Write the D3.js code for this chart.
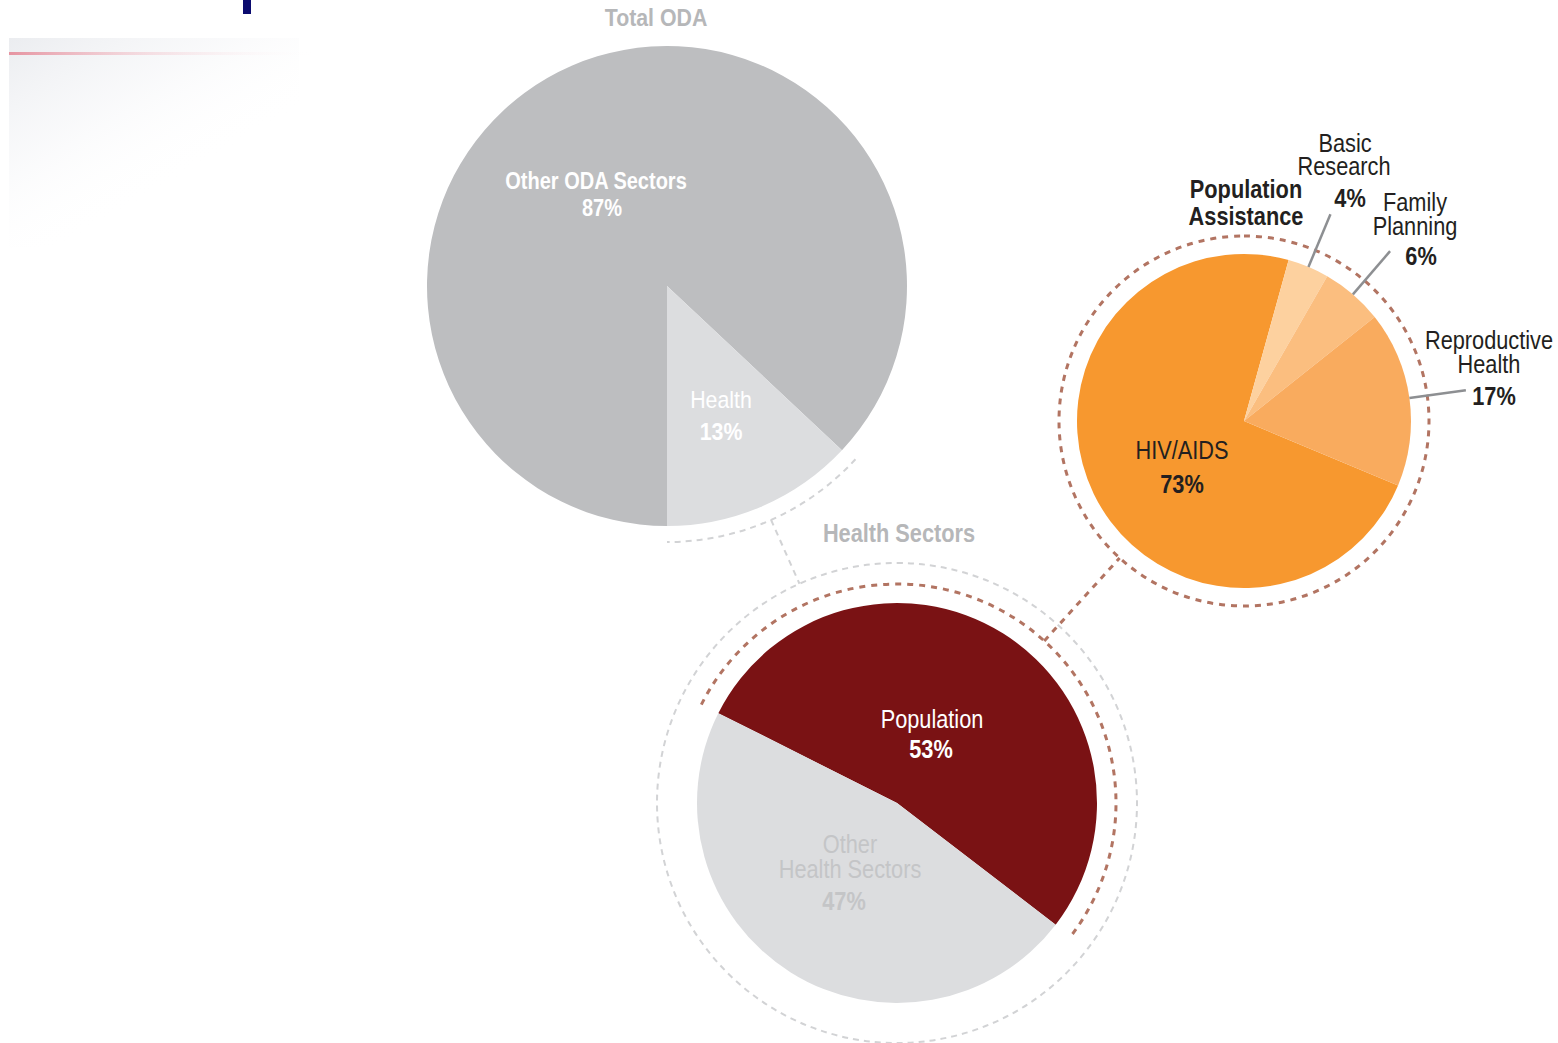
<!DOCTYPE html>
<html>
<head>
<meta charset="utf-8">
<script src="https://cdn.jsdelivr.net/npm/d3@7"></script>
<style>
  html, body { margin: 0; padding: 0; background: #ffffff; }
  svg { display: block; }
  text { font-family: "Liberation Sans", Arial, Helvetica, sans-serif; }
</style>
</head>
<body>
<svg id="chart" width="1558" height="1043"></svg>
<script>
// ---------------- DATA ----------------
const odaLabels = ["Other ODA Sectors", "Health"];
const odaValues = [87, 13];

const healthLabels = ["Population", "Other Health Sectors"];
const healthValues = [53, 47];

const popLabels = ["HIV/AIDS", "Basic Research", "Family Planning", "Reproductive Health"];
const popValues = [73, 4, 6, 17];

const pieTitles = ["Total ODA", "Health Sectors", "Population Assistance"];

// ---------------- STYLE ----------------
const odaColors = ["#bdbec0", "#dcdddf"];
const healthColors = ["#7a1214", "#dcdddf"];
const popColors = ["#f7982f", "#fdd19f", "#fbbe7f", "#f9ab5e"];

const svg = d3.select("#chart");
const deg = Math.PI / 180;
const SX = 0.87;

// background decoration (top-left)
const defs = svg.append("defs");
const redGrad = defs.append("linearGradient").attr("id", "redLine").attr("x1", "0").attr("x2", "1");
redGrad.append("stop").attr("offset", "0").attr("stop-color", "#e58a98").attr("stop-opacity", 0.9);
redGrad.append("stop").attr("offset", "0.45").attr("stop-color", "#f2c4cc").attr("stop-opacity", 0.5);
redGrad.append("stop").attr("offset", "1").attr("stop-color", "#ffffff").attr("stop-opacity", 0);
const greyGrad = defs.append("linearGradient").attr("id", "greyShade")
  .attr("x1", "0").attr("y1", "0").attr("x2", "0.8").attr("y2", "1");
greyGrad.append("stop").attr("offset", "0").attr("stop-color", "#e6e8ec").attr("stop-opacity", 0.8);
greyGrad.append("stop").attr("offset", "0.35").attr("stop-color", "#f1f2f5").attr("stop-opacity", 0.45);
greyGrad.append("stop").attr("offset", "0.7").attr("stop-color", "#ffffff").attr("stop-opacity", 0);

svg.append("rect").attr("x", 9).attr("y", 38).attr("width", 290).attr("height", 210).attr("fill", "url(#greyShade)");
svg.append("rect").attr("x", 9).attr("y", 52).attr("width", 310).attr("height", 3).attr("fill", "url(#redLine)");
svg.append("rect").attr("x", 243).attr("y", 0).attr("width", 8).attr("height", 14).attr("fill", "#0b0b6f");

// helpers: one <text> per label block, lines as tspans
// lines: [{t, y (baseline rel.), dx, w}]
function label(x, y, lines, size, fill) {
  const txt = svg.append("g").attr("transform", `translate(${x},${y}) scale(${SX},1)`)
    .append("text")
    .attr("text-anchor", "middle")
    .attr("font-size", size)
    .attr("fill", fill);
  lines.forEach(l => {
    txt.append("tspan")
      .attr("x", (l.dx || 0) / SX)
      .attr("y", l.y)
      .attr("font-weight", l.w || "normal")
      .attr("font-size", l.s || size)
      .text(l.t);
  });
}
function dashedArc(cx, cy, r, a0, a1, color, width, dash) {
  const p = d3.path();
  p.arc(cx, cy, r, a0 - Math.PI / 2, a1 - Math.PI / 2, false);
  svg.append("path").attr("d", p.toString())
    .attr("fill", "none").attr("stroke", color)
    .attr("stroke-width", width).attr("stroke-dasharray", dash);
}
function polar(cx, cy, r, a) {
  return [cx + r * Math.sin(a), cy - r * Math.cos(a)];
}
function makePie(values, startAngle) {
  return d3.pie().sort(null).startAngle(startAngle).endAngle(startAngle + 2 * Math.PI)(values);
}
function drawPie(cx, cy, r, arcs, colors) {
  const arcGen = d3.arc().innerRadius(0).outerRadius(r);
  svg.append("g").attr("transform", `translate(${cx},${cy})`)
    .selectAll("path").data(arcs).join("path")
    .attr("d", arcGen)
    .attr("fill", (d, i) => colors[i]);
}

// ---------------- GEOMETRY ----------------
const oda = { cx: 667, cy: 286, r: 240, start: 180 * deg };
const hs = { cx: 897, cy: 803, r: 200, start: -63.3 * deg };
const pa = { cx: 1244, cy: 421, r: 167, start: 112.7 * deg };

const odaArcs = makePie(odaValues, oda.start);
const hsArcs = makePie(healthValues, hs.start);
const paArcs = makePie(popValues, pa.start);

const grey = "#d2d3d5";
const brown = "#b27462";

// ---------- connectors & dashed rings ----------
dashedArc(oda.cx, oda.cy, 256, odaArcs[1].startAngle - 0.6 * deg, odaArcs[1].endAngle, grey, 2, "6,5");
{
  const dx = hs.cx - oda.cx, dy = hs.cy - oda.cy, L = Math.hypot(dx, dy);
  const ux = dx / L, uy = dy / L;
  svg.append("line")
    .attr("x1", oda.cx + ux * 256).attr("y1", oda.cy + uy * 256)
    .attr("x2", hs.cx - ux * 240).attr("y2", hs.cy - uy * 240)
    .attr("stroke", grey).attr("stroke-width", 2).attr("stroke-dasharray", "6,5");
}
dashedArc(hs.cx, hs.cy, 240, 0, 2 * Math.PI, grey, 2, "6,5");
dashedArc(hs.cx, hs.cy, 219, hsArcs[0].startAngle, hsArcs[0].endAngle, brown, 3, "6,6");
{
  const dx = pa.cx - hs.cx, dy = pa.cy - hs.cy, L = Math.hypot(dx, dy);
  const ux = dx / L, uy = dy / L;
  svg.append("line")
    .attr("x1", hs.cx + ux * 219).attr("y1", hs.cy + uy * 219)
    .attr("x2", pa.cx - ux * 185).attr("y2", pa.cy - uy * 185)
    .attr("stroke", brown).attr("stroke-width", 3).attr("stroke-dasharray", "6,6");
}
dashedArc(pa.cx, pa.cy, 185, 0, 2 * Math.PI, brown, 3, "6,6");

// ---------------- PIES ----------------
drawPie(oda.cx, oda.cy, oda.r, odaArcs, odaColors);
drawPie(hs.cx, hs.cy, hs.r, hsArcs, healthColors);
drawPie(pa.cx, pa.cy, pa.r, paArcs, popColors);

// leader lines for the small orange slices (radial)
paArcs.forEach((a, i) => {
  if (i === 0) return;
  const mid = (a.startAngle + a.endAngle) / 2;
  const p0 = polar(pa.cx, pa.cy, pa.r, mid);
  const p1 = polar(pa.cx, pa.cy, 224, mid);
  svg.append("line").attr("x1", p0[0]).attr("y1", p0[1]).attr("x2", p1[0]).attr("y2", p1[1])
    .attr("stroke", "#8d8f92").attr("stroke-width", 2.5);
});

// ---------------- LABELS ----------------
const dark = "#231f20";
const titleGrey = "#b6b7b9";
const pct = v => v + "%";

// titles
label(oda.cx - 11, 26, [{ t: pieTitles[0], y: 0, w: "bold" }], 24.5, titleGrey);
label(hs.cx + 2, 542, [{ t: pieTitles[1], y: 0, w: "bold" }], 25, titleGrey);
label(pa.cx + 2, 198, [
  { t: "Population", y: 0, w: "bold" },
  { t: "Assistance", y: 27, w: "bold" }
], 25, dark);

// Total ODA slices
label(oda.cx - 71, 189, [
  { t: odaLabels[0], y: 0, w: "bold" },
  { t: pct(odaValues[0]), y: 27, dx: 6, w: "bold" }
], 23, "#ffffff");
label(oda.cx + 54, 408, [
  { t: odaLabels[1], y: 0 },
  { t: pct(odaValues[1]), y: 32, w: "bold" }
], 24.5, "#ffffff");

// Health Sectors slices
label(hs.cx + 35, 728, [
  { t: healthLabels[0], y: 0 },
  { t: pct(healthValues[0]), y: 30, dx: -1, w: "bold" }
], 25, "#ffffff");
label(hs.cx - 47, 853, [
  { t: "Other", y: 0 },
  { t: "Health Sectors", y: 25 },
  { t: pct(healthValues[1]), y: 57, dx: -6, w: "bold" }
], 25, "#c4c5c7");

// Population Assistance slices
label(pa.cx - 62, 459, [
  { t: popLabels[0], y: 0 },
  { t: pct(popValues[0]), y: 34, w: "bold" }
], 25, dark);
label(pa.cx + 100, 152, [
  { t: "Basic", y: 0, dx: 1 },
  { t: "Research", y: 23 },
  { t: pct(popValues[1]), y: 55, dx: 6, w: "bold" }
], 25, dark);
label(pa.cx + 171, 211, [
  { t: "Family", y: 0 },
  { t: "Planning", y: 24 },
  { t: pct(popValues[2]), y: 54, dx: 6, w: "bold" }
], 25, dark);
label(pa.cx + 245, 349, [
  { t: "Reproductive", y: 0 },
  { t: "Health", y: 24 },
  { t: pct(popValues[3]), y: 56, dx: 5, w: "bold" }
], 25, dark);
</script>
</body>
</html>
